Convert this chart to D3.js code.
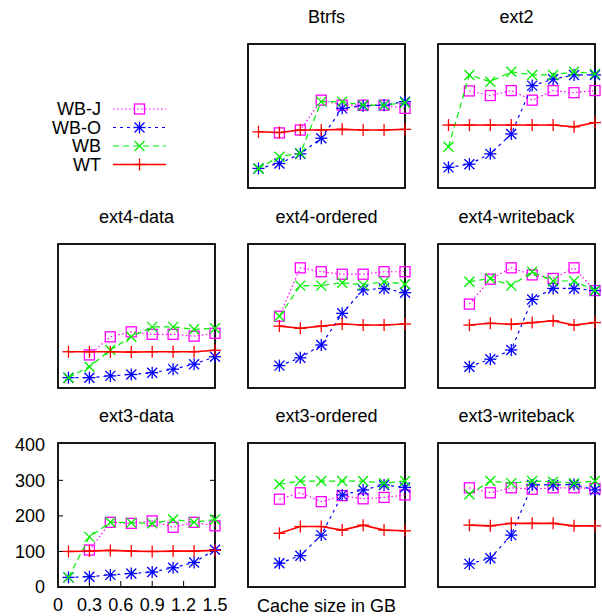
<!DOCTYPE html>
<html><head><meta charset="utf-8">
<script src="https://cdn.jsdelivr.net/npm/d3@7"></script>
<style>body{margin:0;background:#fff}text{font-family:"Liberation Sans",Arial,sans-serif;font-size:18px;fill:#000}</style>
</head><body><svg id="c" width="602" height="616"></svg>
<script>
const xValues = [0.1, 0.3, 0.5, 0.7, 0.9, 1.1, 1.3, 1.5];
const panelNames = ["Btrfs", "ext2", "ext4-data", "ext4-ordered", "ext4-writeback", "ext3-data", "ext3-ordered", "ext3-writeback"];
const seriesNames = ["WB-J", "WB-O", "WB", "WT"];
const yTicks = [0, 100, 200, 300, 400];
const xTicks = [0, 0.3, 0.6, 0.9, 1.2, 1.5];
const xTickLabels = ["0", "0.3", "0.6", "0.9", "1.2", "1.5"];
const xAxisTitle = "Cache size in GB";
// one row per panel (same order as panelNames)
const WBJ = [
  [null, 155, 163, 247, 233, 233, 233, 224],
  [null, 273, 260, 274, 247, 274, 268, 274],
  [null, 93, 144, 158, 151, 151, 146, 154],
  [null, 202, 338, 327, 320, 320, 327, 327],
  [null, 236, 306, 338, 318, 308, 338, 274],
  [null, 104, 182, 179, 186, 168, 182, 172],
  [null, 247, 265, 240, 257, 248, 252, 259],
  [null, 279, 265, 279, 275, 279, 279, 277]
];
const WBO = [
  [55, 69, 96, 140, 224, 231, 233, 243],
  [58, 67, 96, 152, 288, 306, 318, 318],
  [29, 29, 34, 38, 43, 53, 67, 88],
  [null, 63, 85, 121, 210, 276, 280, 268],
  [null, 60, 81, 107, 249, 280, 280, 274],
  [27, 29, 34, 38, 42, 54, 69, 105],
  [null, 67, 88, 146, 259, 273, 287, 280],
  [null, 65, 81, 146, 287, 287, 288, 273]
];
const WB = [
  [55, 88, 98, 243, 243, 233, 233, 240],
  [116, 318, 299, 327, 318, 318, 327, 321],
  [29, 60, 107, 144, 172, 172, 165, 168],
  [null, 202, 288, 288, 296, 290, 299, 292],
  [null, 299, 308, 288, 327, 301, 301, 274],
  [27, 141, 182, 181, 179, 190, 182, 190],
  [null, 289, 298, 298, 298, 298, 292, 298],
  [null, 261, 298, 292, 298, 296, 292, 298]
];
const WT = [
  [158, 156, 163, 163, 165, 163, 163, 165],
  [177, 177, 177, 177, 177, 177, 172, 184],
  [102, 102, 102, 101, 102, 102, 102, 106],
  [null, 174, 168, 174, 180, 177, 177, 180],
  [null, 177, 182, 179, 184, 189, 177, 184],
  [100, 101, 103, 101, 100, 101, 101, 103],
  [null, 151, 170, 170, 160, 174, 160, 158],
  [null, 174, 172, 179, 179, 179, 172, 172]
];

const seriesData = [WBJ, WBO, WB, WT];
const colors = ["#ff00ff", "#0000ff", "#00ee00", "#ff0000"];
const lineColors = ["#ff00ff", "#0000ff", "#00ee00", "#ff0000"];
const lineWidths = [1.2, 1.2, 1.2, 1.6];
const dashes = ["1.5,2.5", "3,4", "6,4", null];
const markerKinds = ["square", "star", "x", "plus"];

const svg = d3.select("#c");
const colLeft = [58, 248, 438], rowTop = [44, 244, 443];
const W = 157, H = 144;
const positions = [[0,1],[0,2],[1,0],[1,1],[1,2],[2,0],[2,1],[2,2]];

function marker(g, kind, cx, cy, color) {
  if (kind === "square") {
    g.append("rect").attr("x", cx - 5).attr("y", cy - 5).attr("width", 10).attr("height", 10)
      .attr("fill", "none").attr("stroke", color).attr("stroke-width", 1.3);
    return;
  }
  const r = 5, segs = [];
  if (kind === "plus" || kind === "star") { segs.push([-r-1,0,r+1,0],[0,-r-1,0,r+1]); }
  if (kind === "x" || kind === "star") { segs.push([-r,-r,r,r],[-r,r,r,-r]); }
  segs.forEach(s => g.append("line").attr("x1", cx+s[0]).attr("y1", cy+s[1]).attr("x2", cx+s[2]).attr("y2", cy+s[3])
    .attr("stroke", color).attr("stroke-width", 1.3));
}

panelNames.forEach((name, p) => {
  const [r, c] = positions[p];
  const left = colLeft[c], top = rowTop[r];
  const x = d3.scaleLinear().domain([0, 1.5]).range([left, left + W]);
  const y = d3.scaleLinear().domain([0, 405]).range([top + H, top]);
  const g = svg.append("g");
  g.append("rect").attr("x", left).attr("y", top).attr("width", W).attr("height", H)
    .attr("fill", "none").attr("stroke", "#000").attr("stroke-width", 1.8);
  g.append("text").attr("x", left + W / 2).attr("y", top - 21).attr("text-anchor", "middle").text(name);
  if (p === 5) {
    yTicks.forEach(t => {
      g.append("text").attr("x", left - 13).attr("y", y(t)).attr("dy", "0.35em").attr("text-anchor", "end").text(t);
      if (t > 0 && t < 400) {
        g.append("line").attr("x1", left).attr("x2", left + 5).attr("y1", y(t)).attr("y2", y(t)).attr("stroke", "#000");
        g.append("line").attr("x1", left + W).attr("x2", left + W - 5).attr("y1", y(t)).attr("y2", y(t)).attr("stroke", "#000");
      }
    });
    xTicks.forEach((t, i) => {
      g.append("text").attr("x", x(t)).attr("y", top + H + 24).attr("text-anchor", "middle").text(xTickLabels[i]);
      if (t > 0 && t < 1.5) {
        g.append("line").attr("x1", x(t)).attr("x2", x(t)).attr("y1", top + H).attr("y2", top + H - 6).attr("stroke", "#000");
      }
    });
  }
  if (p === 6) {
    g.append("text").attr("x", left + W / 2).attr("y", top + H + 25).attr("text-anchor", "middle").text(xAxisTitle);
  }
  seriesData.forEach((sd, s) => {
    const vals = sd[p];
    const pts = xValues.map((xv, i) => [xv, vals[i]]).filter(d => d[1] != null);
    const line = d3.line().x(d => x(d[0])).y(d => y(d[1]));
    const path = g.append("path").attr("d", line(pts)).attr("fill", "none")
      .attr("stroke", lineColors[s]).attr("stroke-width", lineWidths[s]);
    if (dashes[s]) path.attr("stroke-dasharray", dashes[s]);
    pts.forEach(d => marker(g, markerKinds[s], x(d[0]), y(d[1]), colors[s]));
  });
});

// legend
const lg = svg.append("g");
const legY = [109, 127.5, 146, 164.5];
seriesNames.forEach((n, s) => {
  lg.append("text").attr("x", 101).attr("y", legY[s]).attr("dy", "0.35em").attr("text-anchor", "end").text(n);
  const l = lg.append("line").attr("x1", 113).attr("x2", 166).attr("y1", legY[s]).attr("y2", legY[s])
    .attr("stroke", lineColors[s]).attr("stroke-width", lineWidths[s]);
  if (dashes[s]) l.attr("stroke-dasharray", dashes[s]);
  marker(lg, markerKinds[s], 139.5, legY[s], colors[s]);
});
</script></body></html>
